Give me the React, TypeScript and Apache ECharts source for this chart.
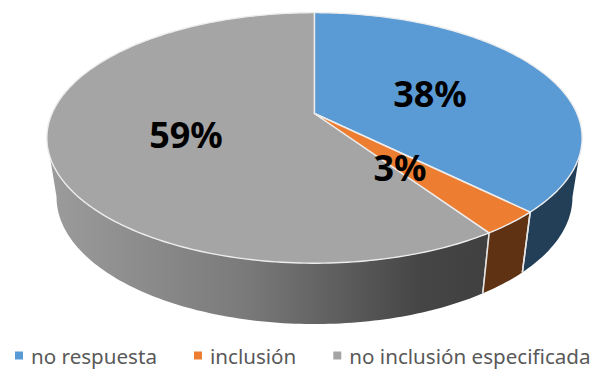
import React, { useEffect, useRef } from "react";
import * as echarts from "echarts";

const categories = ["no respuesta", "inclusión", "no inclusión especificada"];
const values = [38, 3, 59];
const percentLabels = ["38%", "3%", "59%"];
const topColors = ["#5B9BD5", "#ED7D31", "#A5A5A5"];
const wallColors = ["#233F58", "#5E3213", null];

// perspective projection of a circular rim: centre-preserving homography
const K = 0.195;
const WARP = 2.8;
const topRim = { x: 314.5, y: 113.5, a: 262.5, b: 120.5 };
const bottomRim = { x: 314.5, y: 172.5, a: 253, b: 122 };
const WALL_MIN = 103.9;
const WALL_MAX = 256.1;
const labelAnchors = [
  [430, 93],
  [400, 167],
  [186, 134],
];

function project(rim: typeof topRim, deg: number): [number, number] {
  const t = ((deg - WARP * Math.sin((deg * Math.PI) / 180)) * Math.PI) / 180;
  const u = Math.sin(t);
  const v = Math.cos(t);
  const w = 1 + K * v;
  return [rim.x + (rim.a * u) / w, rim.y - (rim.b * v) / w];
}

function arc(rim: typeof topRim, from: number, to: number): [number, number][] {
  const n = Math.max(2, Math.ceil(Math.abs(to - from)));
  const pts: [number, number][] = [];
  for (let i = 0; i <= n; i++) pts.push(project(rim, from + ((to - from) * i) / n));
  return pts;
}

const total = values.reduce((s, v) => s + v, 0);

function makeRenderItem(idx: number) {
  return (_params: any, api: any) => {
    let before = 0;
    for (let i = 0; i < idx; i++) before += values[i];
    const start = (before / total) * 360;
    const end = start + (api.value(0) / total) * 360;
    const children: any[] = [];

    const wStart = Math.max(start, WALL_MIN);
    const wEnd = Math.min(end, WALL_MAX);
    if (wEnd > wStart) {
      const pts = [...arc(topRim, wStart, wEnd), ...arc(bottomRim, wEnd, wStart)];
      const fill =
        wallColors[idx] ??
        new echarts.graphic.LinearGradient(
          48,
          0,
          487,
          0,
          [
            { offset: 0, color: "#9C9C9C" },
            { offset: 0.45, color: "#7A7A7A" },
            { offset: 0.85, color: "#454545" },
            { offset: 1, color: "#404040" },
          ],
          true
        );
      children.push({ type: "polygon", shape: { points: pts }, style: { fill }, z2: 1 });
    }
    // separators on the wall
    [start, end].forEach((deg) => {
      if (deg > WALL_MIN && deg < WALL_MAX) {
        const p = project(topRim, deg);
        const q = project(bottomRim, deg);
        children.push({
          type: "line",
          shape: { x1: p[0], y1: p[1], x2: q[0], y2: q[1] },
          style: { stroke: "#E6E6E6", lineWidth: 1.5 },
          z2: 2,
        });
      }
    });
    // top face
    children.push({
      type: "polygon",
      shape: { points: [[topRim.x, topRim.y], ...arc(topRim, start, end)] },
      style: { fill: topColors[idx], stroke: "#EDEDED", lineWidth: 1.4, lineJoin: "round" },
      z2: 3,
    });
    children.push({
      type: "text",
      x: labelAnchors[idx][0],
      y: labelAnchors[idx][1],
      z2: 10,
      style: {
        text: percentLabels[idx],
        fill: "#000000",
        font: 'bold 36px "Noto Sans"',
        align: "center",
        verticalAlign: "middle",
      },
    });
    return { type: "group", children };
  };
}

export default function App() {
  const ref = useRef<HTMLDivElement>(null);
  useEffect(() => {
    const chart = echarts.init(ref.current!, null, { renderer: "svg" });
    chart.setOption({
      animation: false,
      backgroundColor: "#ffffff",
      legend: {
        data: categories,
        left: 10,
        top: 340,
        width: 660,
        icon: "rect",
        itemWidth: 8,
        itemHeight: 8,
        itemGap: 37,
        textStyle: {
          fontFamily: "Noto Sans",
          fontSize: 20.6,
          color: "#595959",
          padding: [0, 0, 0, 3],
        },
      },
      series: categories.map((name, i) => ({
        type: "custom",
        name,
        coordinateSystem: "none",
        itemStyle: { color: topColors[i] },
        data: [[values[i]]],
        renderItem: makeRenderItem(i),
        z: i === 2 ? 1 : 2,
      })),
    });
    return () => chart.dispose();
  }, []);
  return <div ref={ref} style={{ position: "fixed", left: 0, top: 0, width: 593, height: 369 }} />;
}
